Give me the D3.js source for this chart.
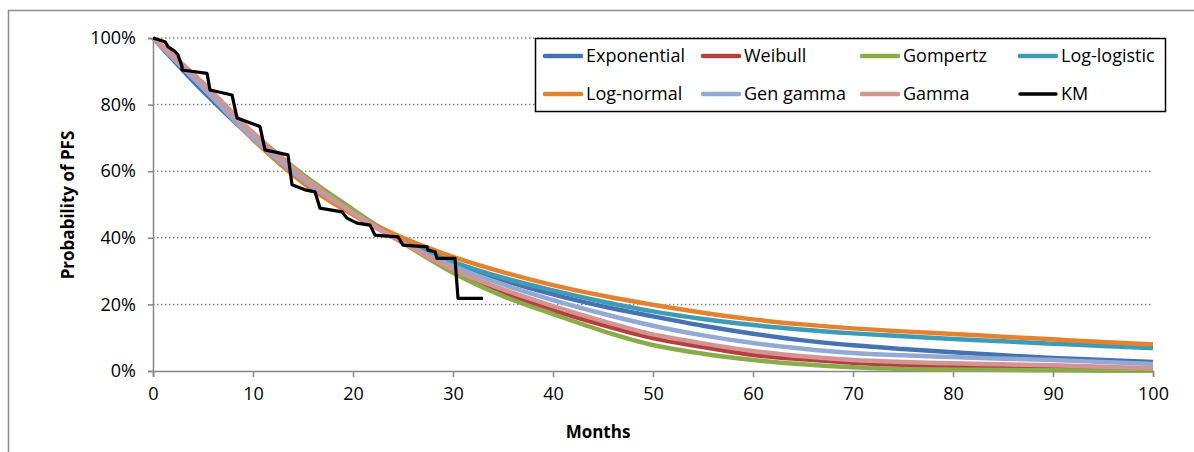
<!DOCTYPE html>
<html>
<head>
<meta charset="utf-8">
<script src="https://cdn.jsdelivr.net/npm/d3@7"></script>
<style>
  body { margin: 0; background: #fff; }
  svg text { font-family: "Open Sans", "Noto Sans", sans-serif; fill: #000; }
</style>
</head>
<body>
<svg width="1194" height="452"></svg>
<script>
var months = [0, 5, 10, 15, 20, 25, 30, 35, 40, 45, 50, 55, 60, 65, 70, 75, 80, 85, 90, 95, 100];

// fitted survival curves (%)
var exponential = [100, 84, 69.8, 57.8, 47.8, 39.5, 32.5, 27.3, 23, 19.4, 16.4, 13.6, 11.2, 9.2, 7.7, 6.6, 5.6, 4.7, 3.9, 3.3, 2.7];
var weibull     = [100, 85.5, 71, 58.5, 48, 38.5, 30, 23.5, 18.3, 13.8, 9.9, 7.2, 4.8, 3.5, 2.5, 1.8, 1.3, 0.9, 0.7, 0.5, 0.4];
var gompertz    = [100, 85.5, 71.5, 59, 48.5, 38.5, 29.5, 22.5, 17.1, 12, 7.8, 5.2, 3.3, 2, 1.1, 0.6, 0.4, 0.3, 0.2, 0.1, 0.05];
var logLogistic = [100, 85.5, 70.5, 57.5, 47, 39, 32.8, 28, 24.2, 20.8, 17.9, 15.6, 13.8, 12.4, 11.3, 10.4, 9.6, 8.9, 8.2, 7.5, 6.9];
var logNormal   = [100, 85, 69.5, 56.5, 47, 40, 34.3, 29.7, 25.8, 22.6, 19.9, 17.5, 15.5, 14, 12.8, 11.9, 11.1, 10.3, 9.5, 8.7, 8];
var genGamma    = [100, 85, 70, 57.5, 47.5, 38.5, 31.5, 26, 21.3, 17.2, 13.6, 10.7, 8.4, 6.7, 5.4, 4.7, 4.2, 3.7, 3.3, 2.7, 2.1];
var gamma       = [100, 86.5, 71.5, 58.5, 47.5, 38.5, 30.5, 24.5, 19.5, 15, 11, 8.3, 6, 4.4, 3.3, 2.7, 2.3, 2, 1.7, 1.3, 0.8];

// Kaplan-Meier vertices (month, %)
var kmMonths = [0, 1.2, 1.5, 2.2, 2.5, 2.9, 2.9, 5.4, 5.7, 7.9, 8.4, 10.7, 11.2, 13.5, 13.7, 13.9, 15.2, 16.2, 16.7, 18.9, 19.4, 20.4, 21.7, 22.2, 24.5, 25.0, 27.4, 27.5, 28.2, 28.4, 30.2, 30.5, 33.0];
var kmSurv   = [100, 98.9, 97.4, 95.9, 94.9, 91.4, 90.4, 89.4, 84.4, 82.9, 76.0, 73.4, 66.4, 64.9, 60.4, 55.9, 54.4, 53.8, 48.9, 47.8, 45.9, 44.4, 43.8, 40.8, 40.3, 37.8, 37.3, 36.3, 35.8, 33.8, 33.8, 21.8, 21.8];

var seriesNames = ["Exponential", "Weibull", "Gompertz", "Log-logistic", "Log-normal", "Gen gamma", "Gamma", "KM"];
var seriesColors = ["#4572b0", "#b4403d", "#8aab4b", "#3d9bb5", "#e4832f", "#91a9d3", "#d49494", "#000000"];
var fitted = [exponential, weibull, gompertz, logLogistic, logNormal, genGamma, gamma];

var xTicks = [0, 10, 20, 30, 40, 50, 60, 70, 80, 90, 100];
var yTicks = [0, 20, 40, 60, 80, 100];

var svg = d3.select("svg");

var x = d3.scaleLinear().domain([0, 100]).range([153, 1153]);
var y = d3.scaleLinear().domain([0, 100]).range([371, 38]);

var axisGrey = "#868686";

// outer chart frame (only top and left edges show)
svg.append("path")
    .attr("d", "M8.5,452 V10.5 H1194")
    .attr("fill", "none")
    .attr("stroke", "#8c8c8c")
    .attr("stroke-width", 1.5);

// dotted gridlines
svg.append("g")
    .selectAll("line")
    .data(yTicks.filter(function (d) { return d > 0; }))
    .enter()
    .append("line")
    .attr("x1", x(0))
    .attr("x2", x(100))
    .attr("y1", function (d) { return y(d); })
    .attr("y2", function (d) { return y(d); })
    .attr("stroke", axisGrey)
    .attr("stroke-width", 1.5)
    .attr("stroke-dasharray", "1.5,2.5");

// axes
var yAxis = d3.axisLeft(y)
    .tickValues(yTicks)
    .tickSize(5)
    .tickPadding(12)
    .tickFormat(function (d) { return d + "%"; });

var xAxis = d3.axisBottom(x)
    .tickValues(xTicks)
    .tickSize(6)
    .tickPadding(10);

var gy = svg.append("g").attr("transform", "translate(" + x(0) + ",0)").call(yAxis);
var gx = svg.append("g").attr("transform", "translate(0," + y(0) + ")").call(xAxis);

[gx, gy].forEach(function (g) {
    g.attr("font-size", null).attr("font-family", null);
    g.select(".domain").attr("stroke", axisGrey).attr("stroke-width", 1.5);
    g.selectAll(".tick line").attr("stroke", axisGrey).attr("stroke-width", 1.5);
    g.selectAll(".tick text")
        .attr("fill", "#000")
        .style("font-size", "18px");
});

// fitted curves
var line = d3.line()
    .x(function (d) { return x(d[0]); })
    .y(function (d) { return y(d[1]); })
    .curve(d3.curveMonotoneX);

fitted.forEach(function (vals, i) {
    svg.append("path")
        .datum(months.map(function (m, j) { return [m, vals[j]]; }))
        .attr("fill", "none")
        .attr("stroke", seriesColors[i])
        .attr("stroke-width", 4.5)
        .attr("stroke-linejoin", "round")
        .attr("d", line);
});

// KM curve
var kmLine = d3.line()
    .x(function (d) { return x(d[0]); })
    .y(function (d) { return y(d[1]); });

svg.append("path")
    .datum(kmMonths.map(function (m, j) { return [m, kmSurv[j]]; }))
    .attr("fill", "none")
    .attr("stroke", "#000")
    .attr("stroke-width", 3.2)
    .attr("stroke-linejoin", "round")
    .attr("d", kmLine);

// axis titles
svg.append("text")
    .attr("x", 598)
    .attr("y", 438)
    .attr("text-anchor", "middle")
    .style("font-weight", "bold")
    .style("font-size", "17px")
    .text("Months");

svg.append("text")
    .attr("transform", "translate(74,205) rotate(-90)")
    .attr("text-anchor", "middle")
    .style("font-weight", "bold")
    .style("font-size", "17px")
    .text("Probability of PFS");

// legend
var legend = svg.append("g");
legend.append("rect")
    .attr("x", 535.5)
    .attr("y", 38.5)
    .attr("width", 630)
    .attr("height", 73)
    .attr("fill", "#fff")
    .attr("stroke", "#000")
    .attr("stroke-width", 1.5);

var colX = [543, 701, 860, 1018];
var rowY = [56, 94];

seriesNames.forEach(function (name, i) {
    var cx = colX[i % 4], cy = rowY[Math.floor(i / 4)];
    legend.append("line")
        .attr("x1", cx + 2)
        .attr("x2", cx + 38)
        .attr("y1", cy)
        .attr("y2", cy)
        .attr("stroke", seriesColors[i])
        .attr("stroke-width", name == "KM" ? 3.5 : 4.5)
        .attr("stroke-linecap", "round");
    legend.append("text")
        .attr("x", cx + 43)
        .attr("y", cy + 6)
        .style("font-size", "18px")
        .text(name);
});
</script>
</body>
</html>
